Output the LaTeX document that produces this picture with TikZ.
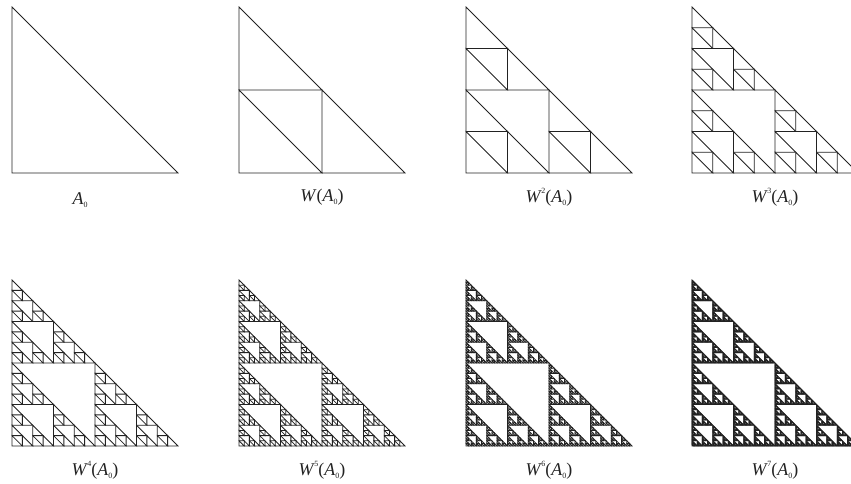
\documentclass[tikz,border=0pt]{standalone}
\usepackage{fontspec}
\setmainfont{Liberation Serif}
\usetikzlibrary{positioning}
\definecolor{ink}{HTML}{222222}
\tikzset{
  tri/.style={draw=ink,line width=0.8pt},
  itlabel/.style={font=\fontsize{18}{20}\selectfont,inner sep=1pt,text=ink}
}
% one level of the map W: three half-size copies
\newcommand\sierpinski[4]{%
  \ifnum#1=0\relax
    \draw[tri] (#2,#3) -- ++(#4,0) -- ++(-#4,#4) -- cycle;
  \else
    \begingroup
    \pgfmathsetmacro\halfsize{#4/2}%
    \pgfmathsetmacro\midx{#2+#4/2}%
    \pgfmathsetmacro\midy{#3+#4/2}%
    \pgfmathtruncatemacro\sublevel{#1-1}%
    \edef\subcalls{%
      \noexpand\sierpinski{\sublevel}{#2}{#3}{\halfsize}%
      \noexpand\sierpinski{\sublevel}{\midx}{#3}{\halfsize}%
      \noexpand\sierpinski{\sublevel}{#2}{\midy}{\halfsize}}%
    \subcalls
    \endgroup
  \fi}
\newcommand\smallidx[1]{{\fontsize{8}{8}\selectfont\upshape #1}}
\newcommand\Azero{\textit{A}\raisebox{-0.2em}{\smallidx{0}}}
\newcommand\iterlab[1]{\textit{W}\ifnum#1>1\relax\kern-0.5pt\raisebox{0.5em}{\smallidx{#1}}\fi(\Azero)}

\begin{document}
\begin{tikzpicture}[x=1bp,y=1bp]
  \useasboundingbox (0,0) rectangle (851,484);
  \sierpinski{0}{12}{311}{166}
  \node[itlabel] (lab0) at (80,284) {\Azero};
  \foreach \lvl/\px/\py in {1/239/311,2/466/311,3/692/311,
                            4/12/38,5/239/38,6/466/38,7/692/38}{
    \sierpinski{\lvl}{\px}{\py}{166}
    \node[itlabel] (lab\lvl) at (\px+83,\py-24) {\iterlab{\lvl}};
  }
\end{tikzpicture}
\end{document}
